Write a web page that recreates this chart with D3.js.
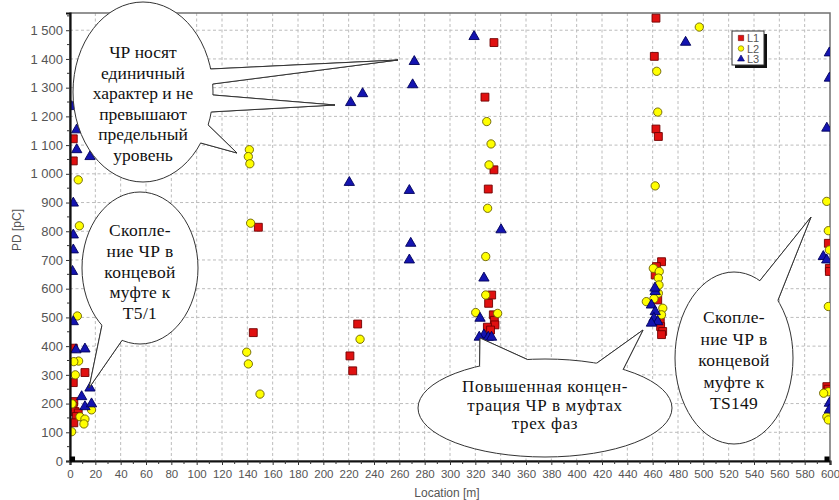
<!DOCTYPE html>
<html>
<head>
<meta charset="utf-8">
<script src="https://cdn.jsdelivr.net/npm/d3@7"></script>
<style>
body { margin: 0; background: #fff; }
svg { display: block; }
</style>
</head>
<body>
<svg id="chart" width="839" height="500"></svg>
<script>
// axis ticks
const xTicks = d3.range(0, 601, 20);
const yTicks = d3.range(0, 1501, 100);

// series: [location m, PD pC]
const seriesNames = ["L1", "L2", "L3"];

const l1 = [
  [2.6, 1122], [2.6, 1045], [2.6, 393], [11.8, 308], [2.6, 273], [3, 207], [2.5, 190], [4, 172], [6.5, 167], [5, 155], [3, 133],
  [148.7, 814], [144.7, 447],
  [227.1, 477], [221, 366], [223.2, 314],
  [334.7, 1457], [327.6, 1267], [334.7, 1014], [330.2, 947], [332.9, 578], [330.5, 549], [334.2, 509], [335, 490], [335.5, 474], [329.5, 466], [332, 456],
  [462.6, 1542], [461.3, 1409], [462.6, 1156], [464.5, 1130], [467, 694], [463, 677], [462, 648], [464, 561], [466, 485], [466.3, 468], [467.9, 451], [467, 440],
  [598.7, 758], [599.5, 671], [599.5, 660], [597.5, 259], [598.5, 250]
];

const l2 = [
  [6.5, 979], [7.4, 819], [5.8, 505], [6.8, 348], [3, 346], [4.2, 300], [1.6, 199], [7.9, 154], [11.8, 146], [11, 129], [17, 178], [1.3, 102],
  [141.6, 1084], [140.8, 1060], [142, 1035], [142.6, 828], [139.5, 379], [140.8, 338], [150, 233],
  [229, 424],
  [329, 1182], [332.4, 1104], [330.8, 1031], [329.7, 880], [328.2, 712], [328.2, 578], [320.3, 517], [337.6, 514],
  [496.8, 1511], [463.2, 1357], [464, 1215], [462, 958], [460.5, 671], [465.2, 660], [464.5, 637], [465, 613], [464.5, 584], [461, 565], [455, 555], [468, 532], [467, 509],
  [597.4, 904], [598.7, 802], [599.5, 735], [598.7, 538], [598.7, 241], [595, 236], [597.5, 154], [598.7, 143]
];

const l3 = [
  [1.4, 1234], [5.3, 1153], [5.3, 1084], [15.8, 1060], [2.6, 898], [2.6, 787], [2.6, 735], [2, 660], [2.6, 485], [4.7, 387], [11.8, 390], [15.8, 254], [9.2, 224], [11.8, 189], [17, 199],
  [231, 1279], [221.6, 1248], [220.5, 970], [271.8, 1391], [270.5, 1310], [267.9, 942], [269, 758], [267.9, 700],
  [319, 1478], [340.3, 805], [326.8, 637], [323.7, 497], [326.8, 439], [323.1, 431], [330.2, 431], [332.8, 431],
  [486, 1458], [462, 590], [461.8, 602], [459, 543], [462, 520], [461, 497], [464, 485], [459, 480],
  [599.5, 1421], [599.5, 1333], [597.5, 1159], [594.7, 712], [597.4, 700], [599.5, 201], [599.5, 178]
];

// cable end markers
const ends = [[2, 0], [600, 0]];

// callout texts and shapes (pixel layout)
const callouts = [
  { cx: 143, cy: 92, rx: 70, ry: 90, size: 17.5, spacing: 0, first: 58, step: 20.5,
    lines: ["ЧР носят", "единичный", "характер и не", "превышают", "предельный", "уровень"],
    wedges: [[-14.8, -5.1, 398, 60], [1.9, 12.8, 335, 105], [21.5, 34.5, 237, 153]] },
  { cx: 140, cy: 268, rx: 58, ry: 76, size: 17.5, spacing: 0.3, first: 236, step: 20.75,
    lines: ["Скопле-", "ние ЧР в", "концевой", "муфте к", "T5/1"],
    wedges: [[108, 131, 89, 388]] },
  { cx: 545, cy: 408, rx: 127, ry: 49, size: 17, spacing: 0.6, first: 392, step: 18.5,
    lines: ["Повышенная концен-", "трация ЧР в муфтах", "трех фаз"],
    wedges: [[-121, -98, 480, 338], [-66, -52, 643, 330]] },
  { cx: 734, cy: 358, rx: 59, ry: 86, size: 17.5, spacing: 0.3, first: 323, step: 21.5,
    lines: ["Скопле-", "ние ЧР в", "концевой", "муфте к", "TS149"],
    wedges: [[-64, -42, 811, 217]] }
];

const sans = "Liberation Sans";
const serifFont = "Liberation Serif";

const width = 839, height = 500;
const margin = { top: 13, right: 9, bottom: 39, left: 70 };

const svg = d3.select("#chart");

const x = d3.scaleLinear().domain([0, 600]).range([margin.left, width - margin.right]);
const y = d3.scaleLinear().domain([0, 1560]).range([height - margin.bottom, margin.top]);

// grid
const grid = svg.append("g").attr("stroke", "#bcbcbc").attr("stroke-dasharray", "3,2.5");
grid.selectAll("line.v").data(xTicks.slice(1, -1)).enter().append("line")
  .attr("x1", d => x(d)).attr("x2", d => x(d))
  .attr("y1", y.range()[1]).attr("y2", y.range()[0]);
grid.selectAll("line.h").data(yTicks.slice(1)).enter().append("line")
  .attr("y1", d => y(d)).attr("y2", d => y(d))
  .attr("x1", x.range()[0]).attr("x2", x.range()[1]);

// frame (top/right)
svg.append("rect")
  .attr("x", x.range()[0]).attr("y", y.range()[1])
  .attr("width", x.range()[1] - x.range()[0])
  .attr("height", y.range()[0] - y.range()[1])
  .attr("fill", "none").attr("stroke", "#707070").attr("stroke-width", 1.5);

// points
svg.append("clipPath").attr("id", "plotclip").append("rect")
  .attr("x", x.range()[0]).attr("y", y.range()[1])
  .attr("width", x.range()[1] - x.range()[0])
  .attr("height", y.range()[0] - y.range()[1]);

const styles = {
  L1: { data: l1, type: d3.symbolSquare, size: 62, fill: "#e01010", stroke: "#700000" },
  L2: { data: l2, type: d3.symbolCircle, size: 54, fill: "#ffff00", stroke: "#6a6000" },
  L3: { data: l3, type: d3.symbolTriangle, size: 46, fill: "#1414b0", stroke: "#00005a" }
};

const plot = svg.append("g").attr("clip-path", "url(#plotclip)");
seriesNames.forEach(function(name) {
  const s = styles[name];
  plot.append("g").selectAll("path")
    .data(s.data)
    .enter()
    .append("path")
    .attr("transform", d => "translate(" + x(d[0]) + "," + y(d[1]) + ")")
    .attr("d", d3.symbol().type(s.type).size(s.size))
    .attr("fill", s.fill)
    .attr("stroke", s.stroke)
    .attr("stroke-width", 0.9);
});

// axes
const xAxis = d3.axisBottom(x).tickValues(xTicks).tickSize(4).tickFormat(d3.format("d"));
const yAxis = d3.axisLeft(y).tickValues(yTicks).tickSize(4)
  .tickFormat(d => d >= 1000 ? d3.format(",")(d).replace(",", " ") : d);

const gx = svg.append("g").attr("transform", "translate(0," + y.range()[0] + ")").call(xAxis);
const gy = svg.append("g").attr("transform", "translate(" + x.range()[0] + ",0)").call(yAxis);

// minor ticks
gx.selectAll("line.minor").data(d3.range(10, 600, 20)).enter().append("line")
  .attr("x1", d => x(d)).attr("x2", d => x(d)).attr("y1", 0).attr("y2", 3)
  .attr("stroke", "#333");
gy.selectAll("line.minor").data(d3.range(50, 1560, 100)).enter().append("line")
  .attr("y1", d => y(d)).attr("y2", d => y(d)).attr("x1", 0).attr("x2", -3)
  .attr("stroke", "#333");

[gx, gy].forEach(function(g) {
  g.select(".domain").attr("stroke", "#111").attr("stroke-width", 2.2);
  g.selectAll(".tick line").attr("stroke", "#333");
  g.selectAll(".tick text").attr("fill", "#555").style("font-family", sans);
});
gx.selectAll(".tick text").style("font-size", "11.5px").attr("dy", "0.9em");
gy.selectAll(".tick text").style("font-size", "13px").attr("x", -7);

// ends
svg.append("g").selectAll("rect")
  .data(ends)
  .enter()
  .append("rect")
  .attr("x", d => Math.min(x(d[0]), x.range()[1] - 3) - 2.5)
  .attr("y", d => y(d[1]) - 4.5)
  .attr("width", 5).attr("height", 5)
  .attr("fill", "#000");

// axis titles
svg.append("text")
  .attr("x", 447).attr("y", 497)
  .attr("text-anchor", "middle")
  .attr("fill", "#555")
  .style("font-family", sans)
  .style("font-size", "12px")
  .text("Location [m]");

svg.append("text")
  .attr("transform", "translate(21,230) rotate(-90)")
  .attr("text-anchor", "middle")
  .attr("fill", "#555")
  .style("font-family", sans)
  .style("font-size", "12px")
  .text("PD [pC]");

// legend
const legend = svg.append("g").attr("transform", "translate(732,31)");
legend.append("rect").attr("x", 3).attr("y", 3).attr("width", 32).attr("height", 34).attr("fill", "#111");
legend.append("rect").attr("width", 32).attr("height", 34).attr("fill", "#fff").attr("stroke", "#333");
seriesNames.forEach(function(name, i) {
  const s = styles[name];
  const row = legend.append("g").attr("transform", "translate(9," + (7 + i * 10.5) + ")");
  row.append("path")
    .attr("d", d3.symbol().type(s.type).size(s.size * 0.45))
    .attr("fill", s.fill).attr("stroke", s.stroke).attr("stroke-width", 0.6);
  row.append("text")
    .attr("x", 6).attr("y", 4)
    .attr("fill", "#555")
    .style("font-family", sans)
    .style("font-size", "11px")
    .text(name);
});

// callouts
function ellipsePoint(c, deg) {
  const a = deg * Math.PI / 180;
  return [c.cx + c.rx * Math.cos(a), c.cy + c.ry * Math.sin(a)];
}

callouts.forEach(function(c) {
  const g = svg.append("g");
  c.wedges.forEach(function(w) {
    const b1 = ellipsePoint(c, w[0]), b2 = ellipsePoint(c, w[1]);
    g.append("path")
      .attr("d", "M" + b1 + "L" + w[2] + "," + w[3] + "L" + b2 + "Z")
      .attr("fill", "#fff").attr("stroke", "#333").attr("stroke-width", 1);
  });
  g.append("ellipse")
    .attr("cx", c.cx).attr("cy", c.cy).attr("rx", c.rx).attr("ry", c.ry)
    .attr("fill", "#fff").attr("stroke", "#333").attr("stroke-width", 1);
  c.wedges.forEach(function(w) {
    const b1 = ellipsePoint(c, w[0]), b2 = ellipsePoint(c, w[1]);
    g.append("path")
      .attr("d", "M" + b1 + "L" + w[2] + "," + w[3] + "L" + b2 + "L" + c.cx + "," + c.cy + "Z")
      .attr("fill", "#fff");
    g.append("path")
      .attr("d", "M" + b1 + "L" + w[2] + "," + w[3] + "L" + b2)
      .attr("fill", "none").attr("stroke", "#333").attr("stroke-width", 1);
  });
  g.selectAll("text")
    .data(c.lines)
    .enter()
    .append("text")
    .attr("x", c.cx).attr("y", (d, i) => c.first + i * c.step)
    .attr("text-anchor", "middle")
    .attr("fill", "#111")
    .style("font-family", serifFont)
    .style("font-size", c.size + "px")
    .style("letter-spacing", c.spacing + "px")
    .text(d => d);
});
</script>
</body>
</html>
